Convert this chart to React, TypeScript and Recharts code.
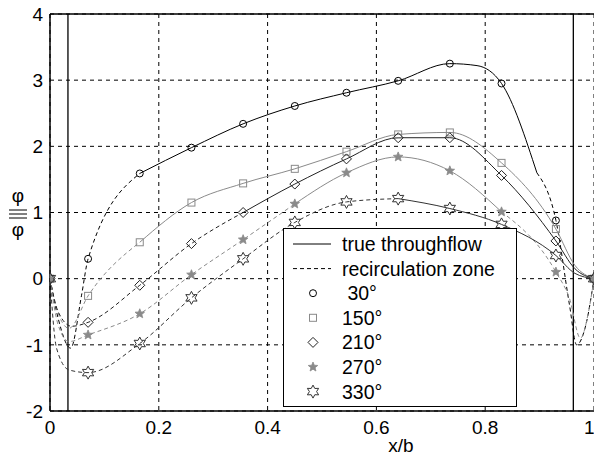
import React from 'react';
import { ComposedChart, Line, Scatter, XAxis, YAxis, CartesianGrid, ReferenceLine } from 'recharts';

const X_TICKS = [0, 0.2, 0.4, 0.6, 0.8, 1];
const Y_TICKS = [-2, -1, 0, 1, 2, 3, 4];

// x/b positions of the measured points
const MARKER_X = [0, 0.07, 0.165, 0.26, 0.355, 0.45, 0.545, 0.64, 0.735, 0.83, 0.93, 1];

const PHI_30 = [0, 0.3, 1.59, 1.98, 2.34, 2.61, 2.81, 2.99, 3.25, 2.95, 0.88, 0];
const PHI_150 = [0, -0.26, 0.55, 1.15, 1.44, 1.66, 1.92, 2.18, 2.21, 1.75, 0.75, 0];
const PHI_210 = [0, -0.66, -0.1, 0.53, 1.0, 1.43, 1.81, 2.13, 2.13, 1.56, 0.57, 0];
const PHI_270 = [0, -0.85, -0.53, 0.06, 0.59, 1.13, 1.6, 1.84, 1.63, 1.01, 0.1, 0];
const PHI_330 = [0, -1.42, -0.98, -0.29, 0.3, 0.85, 1.16, 1.21, 1.06, 0.82, 0.35, 0];

// extra curve points near the walls (no marker)
const EDGE_30 = [[0.015, -0.6], [0.038, -1.05], [0.058, -0.25], [0.785, 3.22], [0.895, 1.6], [0.955, -0.4], [0.968, -1.0], [0.985, -0.7]];
const EDGE_150 = [[0.012, -0.45], [0.035, -0.75], [0.965, 0.2]];
const EDGE_210 = [[0.015, -0.5], [0.04, -0.72], [0.965, 0.15]];
const EDGE_270 = [[0.015, -0.7], [0.035, -0.95], [0.955, -0.3], [0.975, -0.9], [0.99, -0.5]];
const EDGE_330 = [[0.012, -1.05], [0.035, -1.38], [0.965, 0.08]];

// x range of the true throughflow (solid) part
const SOLID_30 = [0.165, 0.895];
const SOLID_150 = [0.165, 1];
const SOLID_210 = [0.355, 1];
const SOLID_270 = [0.45, 0.83];
const SOLID_330 = [0.64, 1];

const FONT = '"Liberation Sans", Arial, sans-serif';

const SERIES = [
  { name: '\u00a030°', values: PHI_30, edge: EDGE_30, solid: SOLID_30, color: '#000', marker: 'circle' },
  { name: '150°', values: PHI_150, edge: EDGE_150, solid: SOLID_150, color: '#8a8a8a', marker: 'square' },
  { name: '210°', values: PHI_210, edge: EDGE_210, solid: SOLID_210, color: '#222', marker: 'diamond' },
  { name: '270°', values: PHI_270, edge: EDGE_270, solid: SOLID_270, color: '#8a8a8a', marker: 'star' },
  { name: '330°', values: PHI_330, edge: EDGE_330, solid: SOLID_330, color: '#333', marker: 'hexagram' },
];

const starPoints = (cx: number, cy: number, n: number, ro: number, ri: number) => {
  const pts: string[] = [];
  for (let i = 0; i < n * 2; i++) {
    const r = i % 2 === 0 ? ro : ri;
    const a = -Math.PI / 2 + (i * Math.PI) / n;
    pts.push(`${cx + r * Math.cos(a)},${cy + r * Math.sin(a)}`);
  }
  return pts.join(' ');
};

const Marker = ({ kind, cx, cy, color }: any) => {
  if (cx == null || cy == null) return null;
  switch (kind) {
    case 'circle':
      return <circle cx={cx} cy={cy} r={3.5} fill="none" stroke={color} strokeWidth={1} />;
    case 'square':
      return <rect x={cx - 3.5} y={cy - 3.5} width={7} height={7} fill="none" stroke={color} strokeWidth={1} />;
    case 'diamond':
      return <polygon points={`${cx},${cy - 5} ${cx + 5},${cy} ${cx},${cy + 5} ${cx - 5},${cy}`} fill="none" stroke={color} strokeWidth={1} />;
    case 'star':
      return <polygon points={starPoints(cx, cy, 5, 5, 2.2)} fill={color} stroke={color} strokeWidth={0.8} />;
    default:
      return <polygon points={starPoints(cx, cy, 6, 6.5, 3.6)} fill="none" stroke={color} strokeWidth={1} />;
  }
};

const buildPoints = (s: any) => {
  const pts = MARKER_X.map((x, i) => ({ x, y: s.values[i] }));
  s.edge.forEach(([x, y]: number[]) => pts.push({ x, y }));
  return pts.sort((a, b) => a.x - b.x);
};

const YLabel = () => (
  <g fontFamily={FONT} fontSize={19} fill="#000">
    <text x={18} y={202} textAnchor="middle">φ</text>
    <line x1={9} x2={27} y1={210} y2={210} stroke="#000" />
    <line x1={9} x2={27} y1={214} y2={214} stroke="#000" />
    <line x1={9} x2={27} y1={218} y2={218} stroke="#000" />
    <text x={18} y={236} textAnchor="middle">φ</text>
  </g>
);

const XLabel = () => (
  <text x={401} y={452} textAnchor="middle" fontFamily={FONT} fontSize={19} fill="#000">x/b</text>
);

const LegendBox = () => {
  const rows = [
    { label: 'true throughflow', line: 'solid' },
    { label: 'recirculation zone', line: 'dash' },
    ...SERIES.map((s) => ({ label: s.name, marker: s.marker, color: s.color })),
  ] as any[];
  return (
    <div style={{ position: 'absolute', left: 283, top: 228, width: 234, height: 179, background: '#fff', border: '1px solid #000', boxSizing: 'border-box' }}>
      <svg width={232} height={177} style={{ display: 'block' }}>
        {rows.map((r, i) => {
          const y = 15 + i * 24.6;
          return (
            <g key={i}>
              {r.line === 'solid' && <line x1={9} x2={47} y1={y} y2={y} stroke="#000" />}
              {r.line === 'dash' && <line x1={9} x2={47} y1={y} y2={y} stroke="#000" strokeDasharray="4 3" />}
              {r.marker && <Marker kind={r.marker} cx={29} cy={y} color={r.color} />}
              <text x={58} y={y + 7} fontFamily={FONT} fontSize={19.5} fill="#000">{r.label}</text>
            </g>
          );
        })}
      </svg>
    </div>
  );
};

export default function App() {
  return (
    <div style={{ position: 'relative', width: 594, height: 461, background: '#fff' }}>
      <style>{`body{margin:0}`}</style>
      <ComposedChart width={594} height={461} margin={{ top: 14, right: 0, bottom: 20, left: 0 }}>
        <CartesianGrid stroke="#000" strokeDasharray="4 4" strokeWidth={1} />
        <XAxis
          type="number"
          dataKey="x"
          domain={[0, 1]}
          ticks={X_TICKS}
          allowDataOverflow
          height={30}
          tickLine={false}
          tickSize={4}
          tickMargin={6}
          axisLine={{ stroke: '#000', strokeWidth: 1.5 }}
          tick={{ fill: '#000', fontSize: 19, fontFamily: FONT }}
          tickFormatter={(v: number) => (v === 0 || v === 1 ? String(v) : v.toFixed(1))}
          label={{ content: () => <XLabel /> }}
        />
        <YAxis
          type="number"
          dataKey="y"
          domain={[-2, 4]}
          ticks={Y_TICKS}
          allowDataOverflow
          width={50}
          tickLine={false}
          tickSize={4}
          tickMargin={3}
          axisLine={{ stroke: '#000', strokeWidth: 1.5 }}
          tick={{ fill: '#000', fontSize: 19, fontFamily: FONT }}
          label={{ content: () => <YLabel /> }}
        />
        <ReferenceLine y={4} stroke="#000" strokeWidth={1.5} />
        <ReferenceLine x={0.033} stroke="#000" strokeWidth={1.3} />
        <ReferenceLine x={0.962} stroke="#000" strokeWidth={1.3} />
        {SERIES.map((s) => {
          const pts = buildPoints(s);
          const [a, b] = s.solid;
          const left = pts.filter((p) => p.x <= a);
          const mid = pts.filter((p) => p.x >= a && p.x <= b);
          const right = pts.filter((p) => p.x >= b);
          return [
            <Line key={s.name + 'l'} data={left} dataKey="y" type="monotone" stroke={s.color} strokeWidth={1} strokeDasharray="4 3" dot={false} activeDot={false} isAnimationActive={false} />,
            <Line key={s.name + 'm'} data={mid} dataKey="y" type="monotone" stroke={s.color} strokeWidth={1} dot={false} activeDot={false} isAnimationActive={false} />,
            right.length > 1 ? (
              <Line key={s.name + 'r'} data={right} dataKey="y" type="monotone" stroke={s.color} strokeWidth={1} strokeDasharray="4 3" dot={false} activeDot={false} isAnimationActive={false} />
            ) : null,
          ];
        })}
        {SERIES.map((s) => (
          <Scatter
            key={s.name + 's'}
            data={MARKER_X.map((x, i) => ({ x, y: s.values[i] }))}
            dataKey="y"
            isAnimationActive={false}
            shape={(p: any) => <Marker kind={s.marker} cx={p.cx} cy={p.cy} color={s.color} />}
          />
        ))}
      </ComposedChart>
      <LegendBox />
    </div>
  );
}
